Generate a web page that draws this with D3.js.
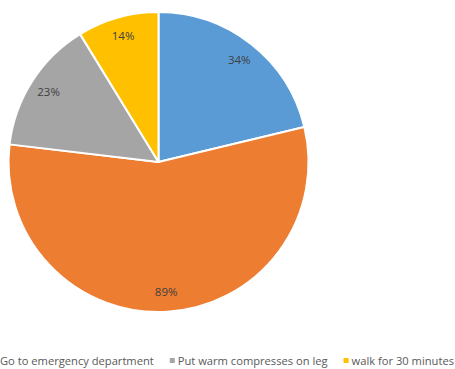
<!DOCTYPE html>
<html>
<head>
<meta charset="utf-8">
<script src="https://cdn.jsdelivr.net/npm/d3@7"></script>
<style>
  html, body { margin: 0; padding: 0; background: #fff; overflow: hidden; }
  svg { display: block; }
</style>
</head>
<body>
<svg id="chart" width="455" height="369"></svg>
<script>
// Responses per option
const categories = ["Go to emergency department", "Call doctor", "Put warm compresses on leg", "walk for 30 minutes"];
const values = [34, 89, 23, 14];
const valueLabels = ["34%", "89%", "23%", "14%"];
const colors = ["#5B9BD5", "#ED7D31", "#A5A5A5", "#FFC000"];
// Legend rows shown under the pie (the second category's entry sits outside the frame)
const legendItems = [0, 2, 3];

const svg = d3.select("#chart");
const cx = 158.5, cy = 162, r = 150;

const pie = d3.pie().sort(null).value(d => d)(values);
const arc = d3.arc().innerRadius(0).outerRadius(r);
const labelArc = d3.arc().innerRadius(r * 0.87).outerRadius(r * 0.87);

const g = svg.append("g").attr("transform", `translate(${cx},${cy})`);

g.selectAll("path.slice")
  .data(pie)
  .join("path")
  .attr("class", "slice")
  .attr("d", arc)
  .attr("fill", (d, i) => colors[i])
  .attr("stroke", "#fff")
  .attr("stroke-width", 2)
  .attr("stroke-linejoin", "round");

g.selectAll("text.lbl")
  .data(pie)
  .join("text")
  .attr("class", "lbl")
  .attr("transform", d => `translate(${labelArc.centroid(d)})`)
  .attr("text-anchor", "middle")
  .attr("dy", "0.35em")
  .attr("font-family", "'Open Sans', sans-serif")
  .attr("font-size", 11.5)
  .attr("fill", "#404040")
  .text((d, i) => valueLabels[i]);

// Legend row along the bottom edge; font size chosen so the row spans the available width
const legendFont = "'Open Sans', sans-serif";
const legend = svg.append("g").attr("class", "legend");
const baseY = 365;
const probe = legend.append("text")
  .attr("font-family", legendFont)
  .attr("font-size", 14)
  .text(categories[2]);
const fontSize = Math.min(14, 14 * 150 / probe.node().getComputedTextLength());
probe.remove();

let x = -8;
legendItems.forEach(idx => {
  legend.append("rect")
    .attr("x", x)
    .attr("y", baseY - 7)
    .attr("width", 5)
    .attr("height", 5)
    .attr("fill", colors[idx]);
  const t = legend.append("text")
    .attr("x", x + 8)
    .attr("y", baseY)
    .attr("font-family", legendFont)
    .attr("font-size", fontSize)
    .attr("fill", "#595959")
    .text(categories[idx]);
  x += 8 + t.node().getComputedTextLength() + 16;
});
</script>
</body>
</html>
